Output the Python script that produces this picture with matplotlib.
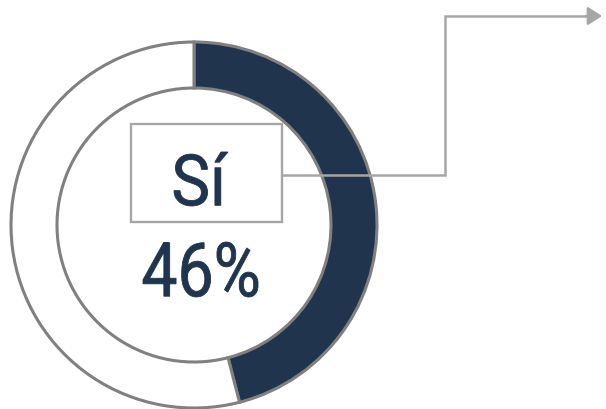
import matplotlib
matplotlib.use("Agg")
import matplotlib.pyplot as plt
from matplotlib.patches import Rectangle, PathPatch
from matplotlib.textpath import TextPath
from matplotlib.font_manager import FontProperties
from matplotlib.transforms import Affine2D

# data
labels = ["Sí", "No"]
shares = [46, 54]
slice_colors = ["#20344d", "#ffffff"]

W, H = 606, 409
grey = "#a6a6a6"
navy = "#20344d"
font = FontProperties(family="Roboto")


def fitted_text(ax, s, x0, x1, y_top, y_bot, color):
    """Draw s as a path stretched into the box (image pixel coords)."""
    tp = TextPath((0, 0), s, size=1, prop=font)
    ext = tp.get_extents()
    sx = (x1 - x0) / ext.width
    sy = (y_bot - y_top) / ext.height
    tr = (Affine2D().translate(-ext.x0, -ext.y0).scale(sx, sy)
          .translate(x0, H - y_bot))
    ax.add_patch(PathPatch(tr.transform_path(tp), facecolor=color,
                           edgecolor=color, linewidth=0.6, zorder=6))


fig = plt.figure(figsize=(W / 100, H / 100), dpi=100)
ax = fig.add_axes([0, 0, 1, 1])

# donut, pixel coordinates with y pointing up
cx, cy = 194, H - 225
ax.pie(shares, colors=slice_colors, startangle=90, counterclock=False,
       radius=183, center=(cx, cy),
       wedgeprops=dict(width=46, edgecolor="#808080", linewidth=2.2))
ax.set_xlim(0, W)
ax.set_ylim(0, H)
ax.set_aspect("equal")
ax.axis("off")

# label box and texts
ax.add_patch(Rectangle((131, H - 222), 151, 98, fill=False,
                       edgecolor=grey, linewidth=1.7, zorder=5))
fitted_text(ax, labels[0], 174, 228, 152, 206, navy)
fitted_text(ax, f"{shares[0]}%", 143, 258, 242, 297, navy)

# connector with arrow
ax.plot([282, 445, 445, 590], [H - 175, H - 175, H - 16, H - 16],
        color=grey, linewidth=1.8, solid_joinstyle="miter", zorder=5)
ax.annotate("", xy=(602, H - 16), xytext=(586, H - 16),
            arrowprops=dict(arrowstyle="-|>,head_length=0.85,head_width=0.55",
                            color=grey, lw=1.8, shrinkA=0, shrinkB=0))

fig.savefig("out.png", dpi=100)
